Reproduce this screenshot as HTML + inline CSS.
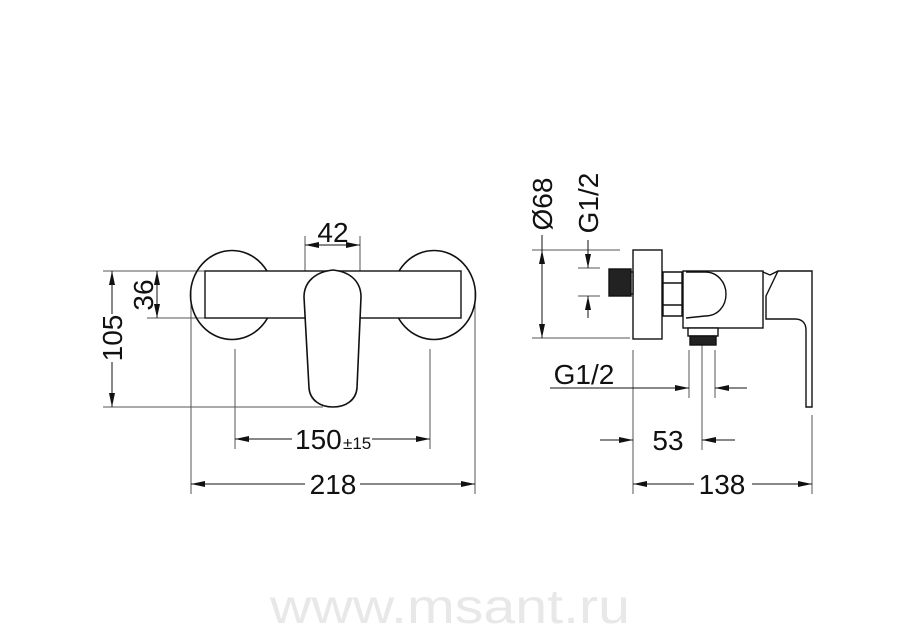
<!DOCTYPE html>
<html><head><meta charset="utf-8"><style>
html,body{margin:0;padding:0;background:#fff;}
svg{display:block;}
text{font-family:"Liberation Sans",sans-serif;fill:#111;}
</style></head><body>
<svg width="900" height="629" viewBox="0 0 900 629" xmlns="http://www.w3.org/2000/svg">
<defs>
<marker id="a" markerWidth="14" markerHeight="6" refX="14" refY="3" orient="auto" markerUnits="userSpaceOnUse"><path d="M0,0 L14,3 L0,6 z" fill="#111"/></marker>
<marker id="b" markerWidth="14" markerHeight="6" refX="0" refY="3" orient="auto" markerUnits="userSpaceOnUse"><path d="M14,0 L0,3 L14,6 z" fill="#111"/></marker>
</defs>
<g stroke="#555" stroke-width="1" fill="none">
<line x1="103" y1="271" x2="205" y2="271"/>
<line x1="147" y1="318" x2="205" y2="318"/>
<line x1="103" y1="407" x2="323" y2="407"/>
<line x1="305" y1="236" x2="305" y2="275"/>
<line x1="360" y1="236" x2="360" y2="275"/>
<line x1="235" y1="349" x2="235" y2="449"/>
<line x1="430" y1="349" x2="430" y2="449"/>
<line x1="191" y1="290" x2="191" y2="494"/>
<line x1="475" y1="290" x2="475" y2="494"/>
<line x1="532" y1="250" x2="620" y2="250"/>
<line x1="532" y1="338" x2="630" y2="338"/>
<line x1="578" y1="268" x2="600" y2="268"/>
<line x1="578" y1="296" x2="600" y2="296"/>
<line x1="633" y1="350" x2="633" y2="494"/>
<line x1="689" y1="350" x2="689" y2="398"/>
<line x1="715" y1="350" x2="715" y2="398"/>
<line x1="702" y1="345" x2="702" y2="450"/>
<line x1="812" y1="415" x2="812" y2="494"/>
</g>
<g stroke="#111" stroke-width="1" fill="none">
<line x1="305" y1="245" x2="360" y2="245" marker-start="url(#b)" marker-end="url(#a)"/>
<line x1="157" y1="271" x2="157" y2="318" marker-start="url(#b)" marker-end="url(#a)"/>
<line x1="112" y1="271" x2="112" y2="314" marker-start="url(#b)"/>
<line x1="112" y1="362" x2="112" y2="407" marker-end="url(#a)"/>
<line x1="235" y1="439" x2="292" y2="439" marker-start="url(#b)"/>
<line x1="372" y1="439" x2="430" y2="439" marker-end="url(#a)"/>
<line x1="191" y1="484" x2="305" y2="484" marker-start="url(#b)"/>
<line x1="360" y1="484" x2="475" y2="484" marker-end="url(#a)"/>
<line x1="542" y1="235" x2="542" y2="250"/>
<line x1="542" y1="250" x2="542" y2="338" marker-start="url(#b)" marker-end="url(#a)"/>
<line x1="588" y1="240" x2="588" y2="268" marker-end="url(#a)"/>
<line x1="588" y1="318" x2="588" y2="296" marker-end="url(#a)"/>
<line x1="550" y1="388" x2="689" y2="388" marker-end="url(#a)"/>
<line x1="747" y1="388" x2="715" y2="388" marker-end="url(#a)"/>
<line x1="600" y1="440" x2="633" y2="440" marker-end="url(#a)"/>
<line x1="735" y1="440" x2="702" y2="440" marker-end="url(#a)"/>
<line x1="633" y1="484" x2="694" y2="484" marker-start="url(#b)"/>
<line x1="752" y1="484" x2="812" y2="484" marker-end="url(#a)"/>
</g>
<g stroke="#111" stroke-width="1.6" fill="none">
<ellipse cx="232" cy="295" rx="41.5" ry="44.5"/>
<ellipse cx="434" cy="295" rx="41.5" ry="44.5"/>
</g>
<rect x="205" y="271" width="256" height="47" fill="#fff" stroke="#111" stroke-width="1.4"/>
<path d="M333,270 C352,272 361,283 361,297 L357,388 C356,400 346,407 333,407 C320,407 310,400 309,388 L304,297 C304,283 314,272 333,270 Z" fill="#fff" stroke="#111" stroke-width="1.6"/>
<g stroke="#111" stroke-width="1.4" fill="#fff">
<rect x="633" y="250" width="29" height="89"/>
<rect x="609" y="269" width="22" height="27" fill="#222"/>
<rect x="631" y="272" width="2" height="22"/>
<path d="M663,272 L682,272 L682,316 L663,316 Z M663,283 L682,283 M663,305 L682,305"/>
<rect x="683" y="271" width="80" height="57"/>
<path d="M686,272 L705,272 C718,272 726,283 726,294 C726,306 718,316 705,316 L686,318" fill="none"/>
<path d="M763,272 L770,275 L778,271 L812,271 L812,407 L806,407 L806,330 C806,323 802,319 795,319 L766,319 L766,296 L778,271" />
<rect x="688" y="328" width="30" height="8"/>
<rect x="690" y="336" width="26" height="9" fill="#222"/>
</g>
<g font-size="28">
<text x="333" y="242" text-anchor="middle">42</text>
<text transform="translate(153,295) rotate(-90)" text-anchor="middle">36</text>
<text transform="translate(122,338) rotate(-90)" text-anchor="middle">105</text>
<text x="295" y="449">150</text><text x="343" y="449" font-size="17">±15</text>
<text x="333" y="494" text-anchor="middle">218</text>
<text transform="translate(552,204) rotate(-90)" text-anchor="middle">Ø68</text>
<text transform="translate(598,203) rotate(-90)" text-anchor="middle">G1/2</text>
<text x="584" y="384" text-anchor="middle">G1/2</text>
<text x="668" y="450" text-anchor="middle">53</text>
<text x="722" y="494" text-anchor="middle">138</text>
</g>
<text x="270" y="623" font-size="48" textLength="360" lengthAdjust="spacingAndGlyphs" style="fill:#e8e8e8">www.msant.ru</text>
</svg>
</body></html>
